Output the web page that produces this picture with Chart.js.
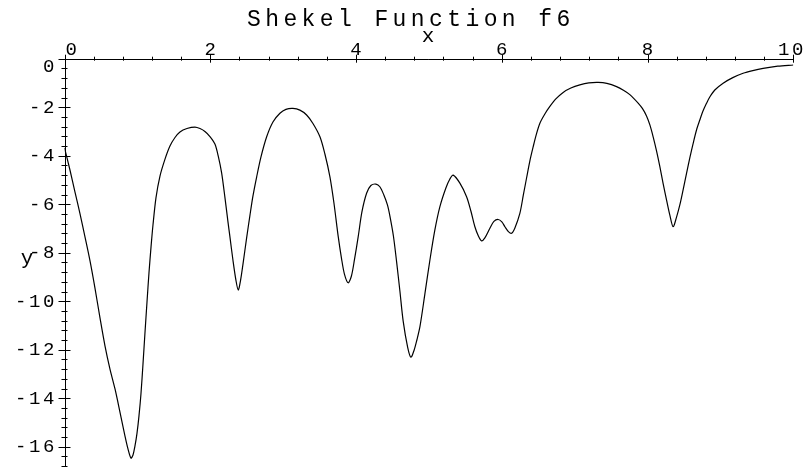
<!DOCTYPE html>
<html>
<head>
<meta charset="utf-8">
<script src="https://cdn.jsdelivr.net/npm/chart.js@4/dist/chart.umd.min.js"></script>
<style>
  html, body { margin: 0; padding: 0; background: #fff; }
  #wrap { width: 804px; height: 468px; }
</style>
</head>
<body>
<div id="wrap"><canvas id="c" width="804" height="468"></canvas></div>
<script>
// ---- data ----
const chartTitle = 'Shekel Function f6';
const xAxisLabel = 'x';
const yAxisLabel = 'y';
const xValues = [0.00,0.075,0.144,0.213,0.281,0.350,0.418,0.487,0.556,0.624,0.693,0.761,0.830,0.871,0.912,0.940,0.967,0.995,1.022,1.049,1.077,1.104,1.132,1.159,1.187,1.214,1.255,1.310,1.379,1.447,1.516,1.584,1.680,1.790,1.859,1.927,1.996,2.064,2.112,2.156,2.202,2.243,2.270,2.311,2.352,2.384,2.414,2.449,2.499,2.544,2.586,2.637,2.696,2.774,2.860,2.956,3.038,3.134,3.230,3.322,3.409,3.505,3.573,3.642,3.697,3.756,3.800,3.841,3.893,3.937,3.978,4.030,4.081,4.145,4.204,4.273,4.327,4.382,4.431,4.465,4.513,4.557,4.602,4.647,4.708,4.753,4.798,4.835,4.877,4.945,5.014,5.082,5.151,5.233,5.288,5.333,5.425,5.517,5.576,5.631,5.679,5.723,5.768,5.837,5.892,5.951,6.001,6.043,6.091,6.134,6.180,6.248,6.296,6.340,6.385,6.431,6.475,6.523,6.591,6.660,6.742,6.842,6.948,7.071,7.195,7.322,7.442,7.575,7.675,7.757,7.871,7.929,7.986,8.032,8.077,8.124,8.169,8.214,8.261,8.306,8.351,8.398,8.443,8.488,8.535,8.580,8.626,8.672,8.717,8.758,8.809,8.854,8.923,9.037,9.170,9.311,9.444,9.586,9.787,10.0];
const yValues = [-3.68,-4.59,-5.50,-6.40,-7.35,-8.34,-9.46,-10.69,-11.85,-12.80,-13.62,-14.57,-15.56,-16.09,-16.47,-16.34,-15.97,-15.44,-14.73,-13.83,-12.59,-11.31,-10.03,-8.84,-7.77,-6.86,-5.74,-4.84,-4.14,-3.60,-3.25,-3.02,-2.88,-2.82,-2.88,-3.00,-3.21,-3.52,-4.05,-4.71,-5.74,-6.73,-7.35,-8.30,-9.13,-9.54,-9.17,-8.47,-7.39,-6.47,-5.66,-4.87,-4.05,-3.22,-2.61,-2.25,-2.09,-2.05,-2.12,-2.32,-2.67,-3.22,-3.93,-4.87,-5.95,-7.34,-8.22,-8.88,-9.24,-8.96,-8.30,-7.34,-6.32,-5.55,-5.23,-5.17,-5.28,-5.62,-6.03,-6.49,-7.31,-8.38,-9.58,-10.82,-11.89,-12.31,-12.01,-11.60,-11.05,-9.70,-8.30,-7.06,-6.10,-5.33,-4.96,-4.80,-5.13,-5.69,-6.28,-6.93,-7.31,-7.51,-7.39,-6.99,-6.71,-6.63,-6.73,-6.93,-7.13,-7.20,-6.98,-6.38,-5.62,-4.92,-4.22,-3.63,-3.11,-2.66,-2.28,-1.97,-1.66,-1.39,-1.21,-1.08,-1.00,-0.98,-1.02,-1.15,-1.31,-1.48,-1.83,-2.05,-2.36,-2.73,-3.22,-3.81,-4.45,-5.15,-5.83,-6.45,-6.93,-6.53,-6.03,-5.41,-4.73,-4.09,-3.49,-2.94,-2.53,-2.18,-1.84,-1.58,-1.29,-1.01,-0.78,-0.60,-0.49,-0.40,-0.31,-0.26];
const xTickValues = [0, 2, 4, 6, 8, 10];
const xTickLabels = ['0', '2', '4', '6', '8', '10'];
const yTickValues = [0, -2, -4, -6, -8, -10, -12, -14, -16];
const yTickLabels = ['0', '-2', '-4', '-6', '-8', '-10', '-12', '-14', '-16'];
const xRange = [0, 10];
const yRange = [-16.8, 0];
const minorStep = 0.4;

const points = xValues.map((x, i) => ({ x: x, y: yValues[i] }));

const MONO = '"Liberation Mono", "Courier New", monospace';

const axesPlugin = {
  id: 'mapleAxes',
  afterDatasetsDraw(chart) {
    const ctx = chart.ctx;
    const xs = chart.scales.x, ys = chart.scales.y;
    const x0 = xs.getPixelForValue(0), y0 = ys.getPixelForValue(0);
    ctx.save();
    ctx.strokeStyle = '#000';
    ctx.lineWidth = 1;
    // axis lines
    ctx.beginPath();
    ctx.moveTo(xs.getPixelForValue(xRange[0]), Math.round(y0) + 0.5);
    ctx.lineTo(xs.getPixelForValue(xRange[1]), Math.round(y0) + 0.5);
    ctx.moveTo(Math.round(x0) + 0.5, ys.getPixelForValue(yRange[1]));
    ctx.lineTo(Math.round(x0) + 0.5, ys.getPixelForValue(yRange[0]));
    ctx.stroke();
    // x ticks
    ctx.beginPath();
    const nx = Math.round((xRange[1] - xRange[0]) / minorStep);
    for (let i = 0; i <= nx; i++) {
      const v = xRange[0] + i * minorStep;
      const px = Math.round(xs.getPixelForValue(v)) + 0.5;
      const major = Math.abs(v / 2 - Math.round(v / 2)) < 1e-6;
      const h = major ? 4 : 2;
      ctx.moveTo(px, y0 - h);
      ctx.lineTo(px, y0 + h);
    }
    // y ticks
    const ny = Math.round((yRange[1] - yRange[0]) / minorStep);
    for (let i = 0; i <= ny; i++) {
      const v = yRange[1] - i * minorStep;
      const py = Math.round(ys.getPixelForValue(v)) + 0.5;
      const major = Math.abs(v / 2 - Math.round(v / 2)) < 1e-6;
      const w = major ? 6 : 3;
      ctx.moveTo(x0 - w, py);
      ctx.lineTo(x0 + w, py);
    }
    ctx.stroke();

    ctx.fillStyle = '#000';
    // title
    ctx.font = '23px ' + MONO;
    ctx.letterSpacing = '4.4px';
    ctx.textAlign = 'left';
    ctx.textBaseline = 'alphabetic';
    ctx.fillText(chartTitle, 247, 26);
    // axis labels
    ctx.font = '21px ' + MONO;
    ctx.letterSpacing = '0px';
    ctx.textAlign = 'center';
    ctx.fillText(xAxisLabel, 428, 42);
    ctx.fillText(yAxisLabel, 27, 264);
    // x tick labels
    ctx.font = '19px ' + MONO;
    ctx.letterSpacing = '2.6px';
    xTickValues.forEach((v, i) => {
      const px = xs.getPixelForValue(v);
      const t = xTickLabels[i];
      if (v === xRange[0]) { ctx.textAlign = 'left'; ctx.fillText(t, px + 1, 55); }
      else if (v === xRange[1]) { ctx.textAlign = 'right'; ctx.fillText(t, 806, 55); }
      else { ctx.textAlign = 'center'; ctx.fillText(t, px + 1.3, 55); }
    });
    // y tick labels
    ctx.textAlign = 'right';
    yTickValues.forEach((v, i) => {
      const py = ys.getPixelForValue(v);
      const t = yTickLabels[i];
      const base = (v === yRange[1]) ? py + 13 : py + 5.7;
      ctx.fillText(t, 57, base);
    });
    ctx.restore();
  }
};

new Chart(document.getElementById('c'), {
  type: 'line',
  data: {
    datasets: [{
      label: chartTitle,
      data: points,
      borderColor: '#000',
      borderWidth: 1.2,
      pointRadius: 0,
      fill: false,
      tension: 0.3
    }]
  },
  options: {
    responsive: false,
    animation: false,
    devicePixelRatio: 1,
    layout: { padding: { left: 64.5, right: 10.7, top: 58.7, bottom: 1.9 } },
    plugins: { legend: { display: false }, title: { display: false }, tooltip: { enabled: false } },
    scales: {
      x: { type: 'linear', min: xRange[0], max: xRange[1], display: false },
      y: { type: 'linear', min: yRange[0], max: yRange[1], display: false }
    }
  },
  plugins: [axesPlugin]
});
</script>
</body>
</html>
